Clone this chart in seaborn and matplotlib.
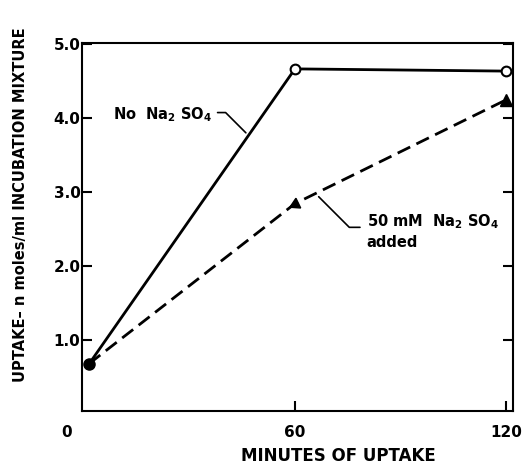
import numpy as np
import pandas as pd
import matplotlib
matplotlib.use('Agg')
import matplotlib.pyplot as plt
import matplotlib.transforms as mtransforms
import seaborn as sns

# Valores
minutes = [1.5, 60, 120]
no_na2so4 = [0.68, 4.66, 4.63]
na2so4_added = [0.68, 2.84, 4.24]

x_ticks = [0, 60, 120]
x_labels = ['0', '60', '120']
y_ticks = [1.0, 2.0, 3.0, 4.0, 5.0]
y_labels = ['1.0', '2.0', '3.0', '4.0', '5.0']

df = pd.DataFrame({'minutes': minutes, 'no': no_na2so4, 'added': na2so4_added})

sns.set_style('white')
plt.rcParams['font.family'] = ['DejaVu Sans']
plt.rcParams['font.weight'] = 'bold'
plt.rcParams['text.color'] = 'black'
plt.rcParams['axes.labelcolor'] = 'black'
plt.rcParams['mathtext.fontset'] = 'custom'
plt.rcParams['mathtext.rm'] = 'DejaVu Sans:bold'
plt.rcParams['mathtext.default'] = 'rm'

fig = plt.figure(figsize=(5.32, 4.67), dpi=100)
ax = fig.add_axes([0.154, 0.120, 0.810, 0.788])

# Linhas
sns.lineplot(data=df, x='minutes', y='no', color='black', lw=2, ax=ax)
sns.lineplot(data=df, x='minutes', y='added', color='black', lw=2,
             linestyle=(0, (5, 2.5)), ax=ax)

# Marcadores
ax.plot(df['minutes'][1:], df['no'][1:], 'o', mfc='white', mec='black', ms=7, mew=1.5)
ax.plot(df['minutes'][2], df['added'][2], marker='^', color='black', ms=8)
ax.plot(df['minutes'][1], df['added'][1], marker=(3, 0, 116), color='black', ms=9)
ax.plot(df['minutes'][0], df['no'][0], 'o', color='black', ms=8)

ax.set_xlim(-0.6, 122)
ax.set_ylim(0.04, 5.01)
ax.set_xticks(x_ticks)
ax.set_xticklabels(x_labels)
ax.set_yticks(y_ticks)
ax.set_yticklabels(y_labels)

for s in ax.spines.values():
    s.set_linewidth(1.5)
    s.set_color('black')

ax.tick_params(direction='in', length=7, width=1.5, left=True, right=True,
               bottom=True, top=False, labelsize=11, colors='black')
ax.tick_params(axis='y', pad=1)
ax.tick_params(axis='x', pad=10)

# sem marca no 0, e o "0" deslocado para a esquerda
ax.xaxis.get_major_ticks()[0].tick1line.set_visible(False)
lbl0 = ax.get_xticklabels()[0]
lbl0.set_transform(lbl0.get_transform() +
                   mtransforms.ScaledTranslation(-0.17, 0, fig.dpi_scale_trans))

ax.set_xlabel('MINUTES OF UPTAKE', fontsize=12, fontweight='bold')
ax.xaxis.set_label_coords(0.594, -0.098)
ax.set_ylabel('UPTAKE– n moles/ml INCUBATION MIXTURE', fontsize=10.5, fontweight='bold')
ax.yaxis.set_label_coords(-0.125, 0.56)

# Anotações
ax.text(8.2, 4.04, 'No  Na$_2$ SO$_4$', fontsize=10.5, fontweight='bold',
        ha='left', va='center')
ax.annotate('', xy=(46.6, 3.77), xytext=(37.2, 4.07),
            arrowprops=dict(arrowstyle='-', lw=1.2, color='black',
                            connectionstyle='angle,angleA=0,angleB=135,rad=0'))
ax.text(80.4, 2.47, '50 mM  Na$_2$ SO$_4$\nadded', fontsize=10.5, fontweight='bold',
        ha='left', va='center', linespacing=1.3)
ax.annotate('', xy=(66.2, 2.96), xytext=(79.3, 2.52),
            arrowprops=dict(arrowstyle='-', lw=1.2, color='black',
                            connectionstyle='angle,angleA=0,angleB=135,rad=0'))

plt.savefig('out.png', dpi=100)
